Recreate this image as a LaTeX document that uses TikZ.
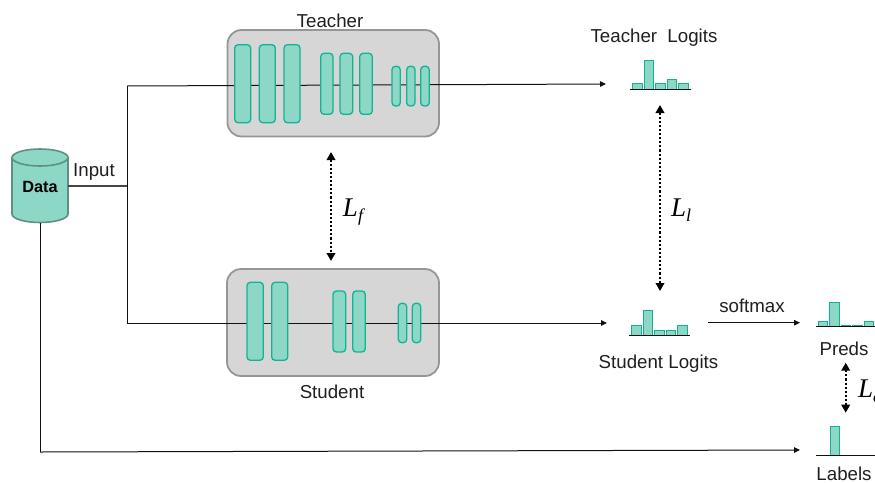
\documentclass[tikz,border=0pt]{standalone}
\usepackage{fontspec}
\setmainfont{Liberation Sans}
\newfontfamily\mathlike{Liberation Serif}
\usetikzlibrary{arrows.meta}
\definecolor{tealfill}{HTML}{8CD7C5}
\definecolor{tealline}{HTML}{12B394}
\definecolor{boxfill}{HTML}{D6D6D6}
\definecolor{boxline}{HTML}{969696}
\definecolor{cylline}{HTML}{5F8F85}
\definecolor{inkline}{HTML}{111111}
\tikzset{
  panel/.style={draw=boxline,fill=boxfill,line width=1.8pt,rounded corners=14pt},
  layerblock/.style={draw=tealline,fill=tealfill,line width=1.3pt,rounded corners=3.4pt,inner sep=0pt,outer sep=0pt},
  histbar/.style={draw=tealline,fill=tealfill,line width=1pt,inner sep=0pt,outer sep=0pt},
  base/.style={draw=inkline,line width=1pt},
  conn/.style={draw=inkline,line width=1pt},
  arr/.style={conn,-{Triangle[length=6pt,width=5.5pt]}},
  dotarr/.style={draw=black,line width=2.1pt,dash pattern=on 2.1pt off 2pt,
     {Triangle[length=8pt,width=8.5pt,sep=0pt]}-{Triangle[length=8pt,width=8.5pt,sep=0pt]}},
  lab/.style={font=\fontsize{18.7}{21}\selectfont,text=black!88,inner sep=0pt},
  loss/.style={inner sep=0pt,text=black},
  pt/.style={inner sep=0pt,minimum size=0pt}
}
\newcommand{\rectnode}[6]{% style, name, x1, x2, y1, y2
  \pgfmathsetmacro{\rw}{#4-#3}\pgfmathsetmacro{\rh}{#6-#5}
  \pgfmathsetmacro{\cx}{(#3+#4)/2}\pgfmathsetmacro{\cy}{(#5+#6)/2}
  \node[#1,minimum width=\rw pt,minimum height=\rh pt] (#2) at (\cx,\cy) {};
}
\newcommand{\lossmark}[2]{{\mathlike\itshape\fontsize{27}{27}\selectfont #1\raisebox{-5pt}{\fontsize{18}{18}\selectfont #2}}}
\begin{document}
\begin{tikzpicture}[x=1pt,y=-1pt]
\useasboundingbox (0,0) rectangle (875,482);
\clip (0,0) rectangle (875,482);
% panels
\rectnode{panel}{teacher}{227.5}{439}{30}{136.5}
\rectnode{panel}{student}{227}{439}{269}{376}
% cylinder
\fill[tealfill] (12,157.5) -- (12,214) arc[start angle=180,end angle=0,x radius=28,y radius=8.5] -- (68,157.5) arc[start angle=0,end angle=-180,x radius=28,y radius=8.5] -- cycle;
\draw[cylline,line width=1.6pt] (12,157.5) -- (12,214) arc[start angle=180,end angle=0,x radius=28,y radius=8.5] -- (68,157.5);
\draw[cylline,line width=1.6pt] (40,157.5) ellipse[x radius=28,y radius=8.5];
\node[pt,minimum width=56pt,minimum height=74pt] (data) at (40,186) {};
\node[inner sep=0pt,text=black] (datatext) at (40,186.5) {\fontsize{16.3}{18}\selectfont\bfseries Data};
% junctions and ends
\coordinate (jd) at (127,186);
\coordinate (jt) at (127,86);
\coordinate (js) at (127,323);
\coordinate (tend) at (606,84);
\coordinate (send) at (607,323);
\coordinate (lc) at (40,452);
\coordinate (lend) at (800,450);
\coordinate (sma) at (708,322.7);
\coordinate (smb) at (800,322.7);
% connectors
\draw[conn,draw=black!72,line width=1.4pt] (data.east) -- (jd);
\draw[conn] (jt) -- (js);
\draw[arr] (jt) -- (tend);
\draw[arr] (js) -- (send);
\draw[conn] (data.south) -- (lc);
\draw[arr] (lc) -- (lend);
\draw[arr] (sma) -- (smb);
% teacher layers
\rectnode{layerblock}{t1}{234.7}{250.7}{44.7}{122.7}
\rectnode{layerblock}{t2}{259.3}{275.3}{44.7}{122.7}
\rectnode{layerblock}{t3}{284}{300}{44.7}{122.7}
\rectnode{layerblock}{t4}{320.7}{333}{53.3}{114.3}
\rectnode{layerblock}{t5}{340}{352.7}{53.3}{114.3}
\rectnode{layerblock}{t6}{359.7}{372.3}{53.3}{114.3}
\rectnode{layerblock}{t7}{392}{400.3}{66.3}{106}
\rectnode{layerblock}{t8}{406.7}{415}{66.3}{106}
\rectnode{layerblock}{t9}{420.7}{429.3}{66.3}{106}
% student layers
\rectnode{layerblock}{s1}{247}{263.3}{282.3}{360.3}
\rectnode{layerblock}{s2}{271.7}{287.7}{282.3}{360.3}
\rectnode{layerblock}{s3}{333}{345.7}{291}{352}
\rectnode{layerblock}{s4}{352.7}{365.3}{291}{352}
\rectnode{layerblock}{s5}{398.3}{406.7}{303.3}{342.7}
\rectnode{layerblock}{s6}{412.3}{420.7}{303.3}{342.7}
% teacher logits
\rectnode{histbar}{ta}{632.7}{642.3}{83.3}{89}
\rectnode{histbar}{tb}{644.3}{653.7}{60}{89}
\rectnode{histbar}{tc}{655.7}{665.3}{83.3}{89}
\rectnode{histbar}{td}{667.3}{676.7}{79}{89}
\rectnode{histbar}{te}{678.7}{688.3}{83.3}{89}
\draw[base] (630,89) -- (691,89);
% student logits
\rectnode{histbar}{sa}{631.7}{641}{325.3}{335}
\rectnode{histbar}{sb}{643.3}{652.7}{310.3}{335}
\rectnode{histbar}{sc}{654.7}{664}{330}{335}
\rectnode{histbar}{sd}{666.3}{675.7}{330}{335}
\rectnode{histbar}{se}{677.7}{687}{325.3}{335}
\draw[base] (629.3,335) -- (690,335);
% preds
\rectnode{histbar}{pa}{818.3}{827.7}{321.7}{326.7}
\rectnode{histbar}{pb}{829.7}{839.3}{302}{326.7}
\rectnode{histbar}{pc}{841.3}{850.7}{325.3}{326.7}
\rectnode{histbar}{pd}{852.7}{862}{325.3}{326.7}
\rectnode{histbar}{pe}{864.3}{873.7}{321.7}{326.7}
\draw[base] (816,326.7) -- (875,326.7);
% labels
\rectnode{histbar}{la}{830}{839}{426.3}{455}
\draw[base] (815.7,455) -- (875,455);
% dotted arrows
\coordinate (fa) at (331,152);\coordinate (fb) at (331,261);
\coordinate (la1) at (660,105);\coordinate (la2) at (660,291);
\coordinate (ca) at (845.7,362.7);\coordinate (cb) at (845.7,412.7);
\draw[dotarr] (fa) -- (fb);
\draw[dotarr] (la1) -- (la2);
\draw[dotarr] (ca) -- (cb);
% text
\node[lab] (tname) at (330,21) {Teacher};
\node[lab] (sname) at (332,392) {Student};
\node[lab] (inputlab) at (94,172) {Input};
\node[lab] (tlog) at (654,38) {Teacher\ \ Logits};
\node[lab] (slog) at (658.5,364) {Student Logits};
\node[lab] (soft) at (752,306) {softmax};
\node[lab] (preds) at (844,349) {Preds};
\node[lab] (labels) at (844,473.5) {Labels};
\node[loss] (lf) at (353,212) {\lossmark{L}{f}};
\node[loss] (ll) at (681,210) {\lossmark{L}{l}};
\node[loss,anchor=west] (lcl) at (858,391) {\lossmark{L}{c}};
\end{tikzpicture}
\end{document}
